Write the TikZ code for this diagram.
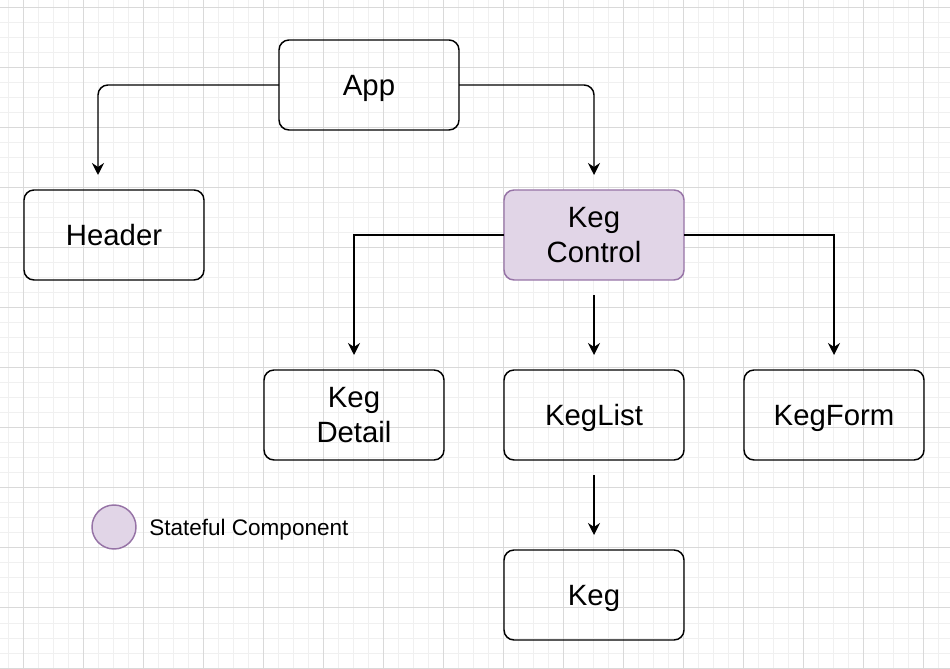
\documentclass[tikz,border=0pt]{standalone}
\usepackage{fontspec}
\setmainfont{Liberation Sans}
\usetikzlibrary{positioning,arrows.meta}
\definecolor{statefill}{HTML}{E1D5E7}
\definecolor{statedraw}{HTML}{9673A6}
\begin{document}
\begin{tikzpicture}[x=0.75pt,y=0.75pt,node distance=67.5pt,
      box/.style={rectangle,rounded corners=7.5pt,draw=black,line width=1.1pt,outer sep=0pt,
        minimum width=135pt,minimum height=67.5pt,align=center,text depth=0pt,
        font=\fontsize{22}{26}\selectfont},
      stateful/.style={box,fill=statefill,draw=statedraw},
      arr/.style={line width=1.1pt,-{Stealth[length=9pt,width=9pt,inset=3pt]},shorten >=11.25pt},
      minorgrid/.style={black!6,line width=0.75pt},
      majorgrid/.style={black!15,line width=0.75pt}
      ]
      \useasboundingbox (0,0) rectangle (950,668);
      \fill[white] (0,0) rectangle (950,668);
      \foreach \gx in {8,23,...,938} \draw[minorgrid] (\gx,0) -- (\gx,668);
      \foreach \gy in {0,15,...,660} \draw[minorgrid] (0,\gy) -- (950,\gy);
      \foreach \gx in {23,83,...,923} \draw[majorgrid] (\gx,0) -- (\gx,668);
      \foreach \gy in {0,60,...,660} \draw[majorgrid] (0,\gy) -- (950,\gy);
      \node (app) [box] at (369,583) {App};
      \node (kegctrl) [stateful] at (594,433) {Keg\\Control};
      \node (header) [box, left=225pt of kegctrl] {Header};
      \node (keglist) [box, below=of kegctrl] {KegList};
      \node (kegdetail) [box, left=45pt of keglist] {Keg\\Detail};
      \node (kegform) [box, right=45pt of keglist] {KegForm};
      \node (keg) [box, below=of keglist] {Keg};
      \draw[arr,rounded corners=7.5pt] (app.west) -| ([xshift=-12pt]header.north);
      \draw[arr,rounded corners=7.5pt] (app.east) -| (kegctrl.north);
      \draw[arr] (kegctrl.west) -| (kegdetail.north);
      \draw[arr] (kegctrl.east) -| (kegform.north);
      \draw[arr,shorten <=11.25pt] (kegctrl) -- (keglist);
      \draw[arr,shorten <=11.25pt] (keglist) -- (keg);
      \node (legend) [circle,fill=statefill,draw=statedraw,line width=1.1pt,outer sep=0pt,
        minimum size=33pt,inner sep=0pt] at (114,141) {};
      \node (legendtxt) [right=9.75pt of legend,inner sep=0pt,text depth=0pt,
        font=\fontsize{16.9}{20}\selectfont] {Stateful Component};
    \end{tikzpicture}
\end{document}
